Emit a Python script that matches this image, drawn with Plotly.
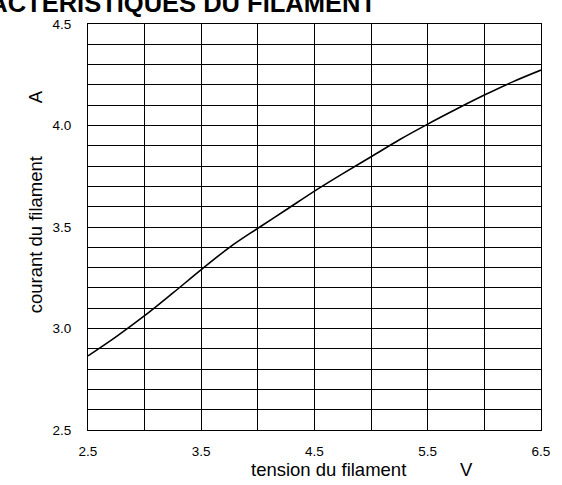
import plotly.graph_objects as go

# Data
tension_V = [2.5, 2.75, 3.0, 3.25, 3.5, 3.75, 4.0, 4.25, 4.5, 4.75, 5.0, 5.25, 5.5, 5.75, 6.0, 6.25, 6.5]
courant_A = [2.865, 2.96, 3.063, 3.175, 3.29, 3.40, 3.494, 3.585, 3.677, 3.763, 3.846, 3.93, 4.007, 4.08, 4.150, 4.215, 4.273]

x_tickvals = [2.5, 3.0, 3.5, 4.0, 4.5, 5.0, 5.5, 6.0, 6.5]
x_ticktext = ["2.5", "", "3.5", "", "4.5", "", "5.5", "", "6.5"]
y_tickvals = [2.5, 3.0, 3.5, 4.0, 4.5]
y_ticktext = ["2.5", "3.0", "3.5", "4.0", "4.5"]

title_text = "CARACTERISTIQUES DU FILAMENT"
x_title = "tension du filament"
x_unit = "V"
y_title = "courant du filament"
y_unit = "A"

FONT = "Liberation Sans, Arial, sans-serif"

fig = go.Figure()
fig.add_trace(go.Scatter(x=tension_V, y=courant_A, mode="lines",
                         line=dict(color="black", width=1.6, shape="spline"),
                         showlegend=False, hoverinfo="skip"))

fig.update_layout(
    width=562, height=485,
    margin=dict(l=88, r=19, t=24, b=55),
    paper_bgcolor="white", plot_bgcolor="white",
    font=dict(family=FONT, color="black"),
    xaxis=dict(range=[2.5, 6.5], tickvals=x_tickvals, ticktext=x_ticktext,
               showgrid=True, gridcolor="black", gridwidth=1,
               showline=True, linecolor="black", linewidth=1, mirror=True,
               zeroline=False, ticks="", ticklabelstandoff=9,
               tickfont=dict(size=13.5, family=FONT, color="black")),
    yaxis=dict(range=[2.5, 4.5], tickvals=y_tickvals, ticktext=y_ticktext,
               showgrid=True, gridcolor="black", gridwidth=1,
               minor=dict(dtick=0.1, showgrid=True, gridcolor="black", gridwidth=1, ticks=""),
               showline=True, linecolor="black", linewidth=1, mirror=True,
               zeroline=False, ticks="", ticklabelstandoff=13,
               tickfont=dict(size=13.5, family=FONT, color="black")),
    annotations=[
        dict(text="<b>" + title_text + "</b>", xref="paper", yref="paper",
             x=0.641, y=1.0517, xanchor="right", yanchor="middle", showarrow=False,
             font=dict(size=25.5, family=FONT, color="black")),
        dict(text=x_title, xref="paper", yref="paper", x=0.532, y=-0.0985,
             xanchor="center", yanchor="middle", showarrow=False,
             font=dict(size=18.5, family=FONT, color="black")),
        dict(text=x_unit, xref="paper", yref="paper", x=0.835, y=-0.0985,
             xanchor="center", yanchor="middle", showarrow=False,
             font=dict(size=18.5, family=FONT, color="black")),
        dict(text=y_title, xref="paper", yref="paper", x=-0.1165, y=0.48,
             xanchor="center", yanchor="middle", textangle=-90, showarrow=False,
             font=dict(size=18.5, family=FONT, color="black")),
        dict(text=y_unit, xref="paper", yref="paper", x=-0.1165, y=0.82,
             xanchor="center", yanchor="middle", textangle=-90, showarrow=False,
             font=dict(size=18.5, family=FONT, color="black")),
    ],
)

fig.write_html("out.html",
               config={"displayModeBar": False},
               post_script="document.body.style.margin='0';document.body.style.overflow='hidden';")
